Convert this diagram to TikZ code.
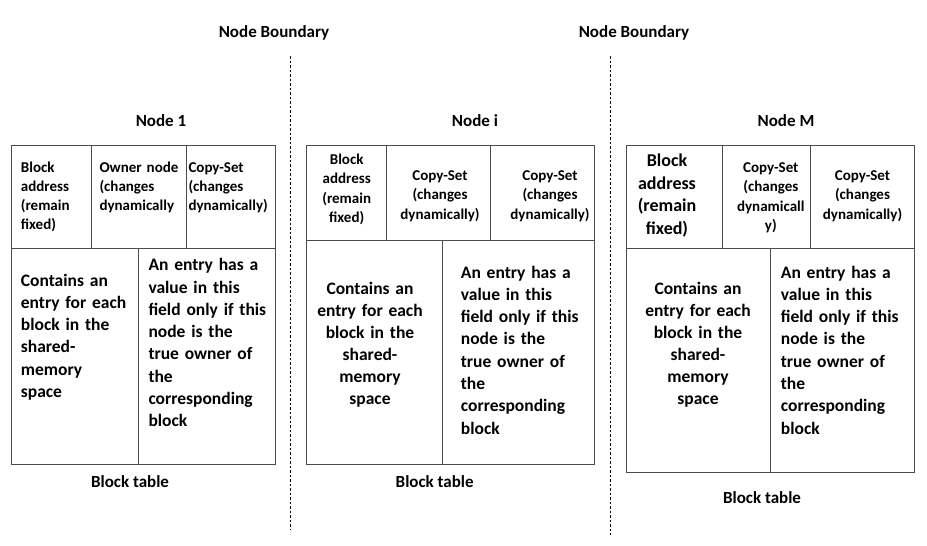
\documentclass[tikz,border=0pt]{standalone}
\usepackage{fontspec}
\setmainfont{Carlito}
\usepackage{tikz}

\tikzset{
  boundary/.style={font={\fontsize{17}{20}\selectfont\bfseries}, inner sep=0, anchor=base},
  title/.style={font={\fontsize{17}{20}\selectfont\bfseries}, inner sep=0, anchor=base},
  tbl/.style={draw=black!70, line width=0.8pt},
  sep/.style={black, line width=0.9pt, dash pattern=on 2.5pt off 2pt},
  hdl/.style={font={\fontsize{15}{19}\selectfont\bfseries}, inner sep=0, anchor=base west, text width=100pt, align=left},
  hdc/.style={font={\fontsize{15}{19.3}\selectfont\bfseries}, inner sep=0, anchor=base, text width=100pt, align=center},
  bodyl/.style={font={\fontsize{17.5}{22.3}\selectfont\bfseries}, inner sep=0, anchor=base west, text width=140pt, align=left},
  bodyc/.style={font={\fontsize{17.5}{22.1}\selectfont\bfseries}, inner sep=0, anchor=base, text width=140pt, align=center}
}

\begin{document}
\begin{tikzpicture}[x=1pt,y=-1pt]
\useasboundingbox[fill=white] (0,0) rectangle (927,546);

\node[boundary] (nb1) at (274,37.7) {Node Boundary};
\node[boundary] (nb2) at (634,37.7) {Node Boundary};
\coordinate (b1top) at (290.7,56);
\coordinate (b1bot) at (290.7,529);
\coordinate (b2top) at (610.7,56);
\coordinate (b2bot) at (610.7,535);
\draw[sep] (b1top) -- (b1bot);
\draw[sep] (b2top) -- (b2bot);

\node[title] (n1) at (161,126) {Node 1};
\draw[tbl] (11,145) rectangle (275,464);
\draw[tbl] (11,248) -- (275,248);
\draw[tbl] (91,145) -- (91,248);
\draw[tbl] (186,145) -- (186,248);
\draw[tbl] (138,248) -- (138,464);
\node[hdl] (n1addr) at (20.7,172) {Block\\address\\(remain\\fixed)};
\node[hdl] (n1own) at (99.3,172) {Owner node\\(changes\\dynamically};
\node[hdl] (n1copy) at (188.3,172) {Copy-Set\\(changes\\dynamically)};
\node[bodyl] (n1cont) at (20.7,286) {Contains an\\entry for each\\block in the\\shared-\\memory\\space};
\node[bodyl] (n1entry) at (148.3,270.7) {An entry has a\\value in this\\field only if this\\node is the\\true owner of\\the\\corresponding\\block};
\node[title] (bt1) at (130,487) {Block table};

\node[title] (ni) at (475,126) {Node i};
\draw[tbl] (306.7,145) rectangle (594.3,464);
\draw[tbl] (306.7,240) -- (594.3,240);
\draw[tbl] (386.7,145) -- (386.7,240);
\draw[tbl] (490.7,145) -- (490.7,240);
\draw[tbl] (442.3,240) -- (442.3,464);
\node[hdc] (niaddr) at (346.7,164.5) {Block\\address\\(remain\\fixed)};
\node[hdc] (nicopya) at (440,180.5) {Copy-Set\\(changes\\dynamically)};
\node[hdc] (nicopyb) at (550,180.5) {Copy-Set\\(changes\\dynamically)};
\node[bodyc] (nicont) at (370,294) {Contains an\\entry for each\\block in the\\shared-\\memory\\space};
\node[bodyl] (nientry) at (460.7,278) {An entry has a\\value in this\\field only if this\\node is the\\true owner of\\the\\corresponding\\block};
\node[title] (bti) at (434.7,487) {Block table};

\node[title] (nm) at (786,126) {Node M};
\draw[tbl] (626.7,145) rectangle (914.3,472.3);
\draw[tbl] (626.7,248.3) -- (914.3,248.3);
\draw[tbl] (722.7,145) -- (722.7,248.3);
\draw[tbl] (810.7,145) -- (810.7,248.3);
\draw[tbl] (770.7,248.3) -- (770.7,472.3);
\node[hdc, font={\fontsize{18}{22.6}\selectfont\bfseries}] (nmaddr) at (667,166.6) {Block\\address\\(remain\\fixed)};
\node[hdc] (nmcopya) at (770.8,172.4) {Copy-Set\\(changes\\dynamicall\\y)};
\node[hdc] (nmcopyb) at (862.5,180.4) {Copy-Set\\(changes\\dynamically)};
\node[bodyc] (nmcont) at (698,294) {Contains an\\entry for each\\block in the\\shared-\\memory\\space};
\node[bodyl] (nmentry) at (780.7,278) {An entry has a\\value in this\\field only if this\\node is the\\true owner of\\the\\corresponding\\block};
\node[title] (btm) at (762,503) {Block table};
\end{tikzpicture}
\end{document}
